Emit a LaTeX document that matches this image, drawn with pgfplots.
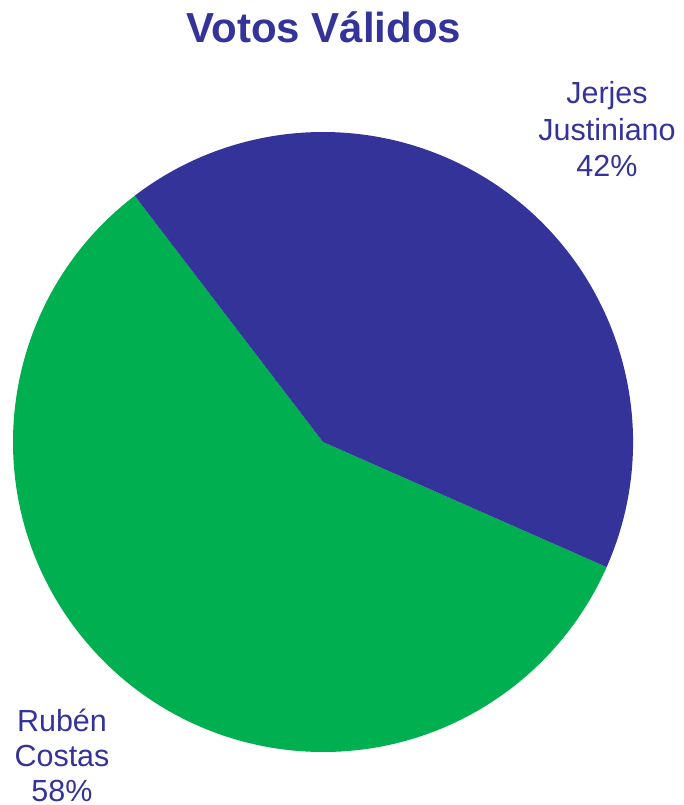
\documentclass[border=0pt]{standalone}
\usepackage{fontspec}
\setmainfont{Liberation Sans}
\usepackage{pgfplots}
\usepackage{pgfplotstable}
\pgfplotsset{compat=1.18}
\definecolor{pieblue}{HTML}{333399}
\definecolor{piegreen}{HTML}{00B050}

% votos validos (%)
\pgfplotstableread{
nombre valor
Costas 58
Justiniano 42
}\votos
\pgfplotstablegetelem{0}{valor}\of\votos \edef\vCostas{\pgfplotsretval}
\pgfplotstablegetelem{1}{valor}\of\votos \edef\vJust{\pgfplotsretval}
\pgfmathsetmacro{\aStart}{127.4}
\pgfmathsetmacro{\aMid}{\aStart+3.6*\vCostas}
\pgfmathsetmacro{\aEnd}{\aMid+3.6*\vJust}

\begin{document}
\begin{tikzpicture}
\begin{axis}[
    name=ax,
    scale only axis,
    width=684pt, height=805pt,
    xmin=0, xmax=684, ymin=0, ymax=805,
    hide axis, clip=false,
]
\fill[piegreen] (axis cs:323,363) -- ++(\aStart:310pt)
    arc[start angle=\aStart, end angle=\aMid, radius=310pt] -- cycle;
\fill[pieblue] (axis cs:323,363) -- ++(\aMid:310pt)
    arc[start angle=\aMid, end angle=\aEnd, radius=310pt] -- cycle;
% titulo
\node[anchor=base, inner sep=0, text=pieblue, font=\fontsize{42}{50}\selectfont\bfseries]
    at (axis cs:324,762) {Votos Válidos};
% etiquetas
\begin{scope}[every node/.style={anchor=base, inner sep=0, text=pieblue,
    font=\fontsize{30.5}{36}\selectfont}]
\node at (axis cs:607,701) {Jerjes};
\node at (axis cs:607,664) {Justiniano};
\node at (axis cs:607,628) {\vJust\%};
\node at (axis cs:62,73) {Rubén};
\node at (axis cs:62,38) {Costas};
\node at (axis cs:62,4) {\vCostas\%};
\end{scope}
\end{axis}
\pgfresetboundingbox
\path[use as bounding box] (ax.south west) rectangle (ax.north east);
\end{tikzpicture}
\end{document}
